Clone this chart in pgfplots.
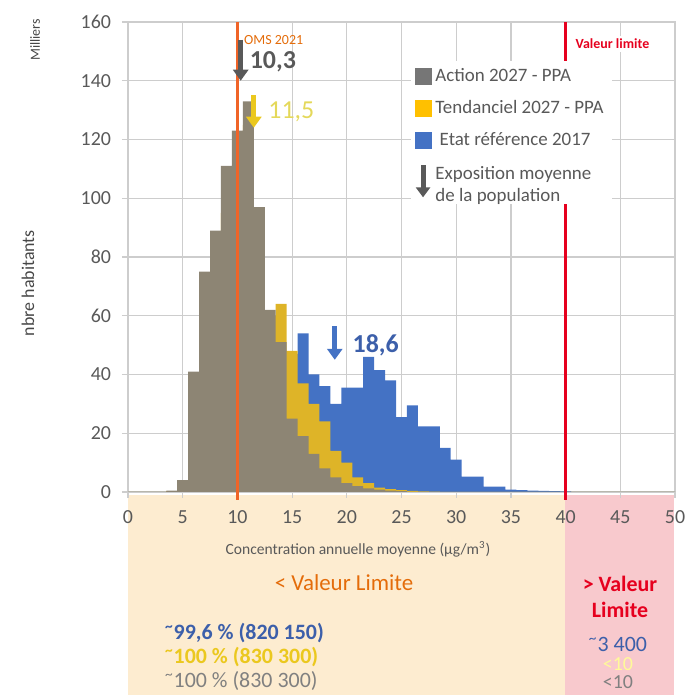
\documentclass[border=0pt]{standalone}
\usepackage{fontspec}
\setmainfont{Carlito}
\usepackage{pgfplots}
\pgfplotsset{compat=1.18}
\usetikzlibrary{arrows.meta}
\definecolor{cblue}{RGB}{68,114,196}
\definecolor{cyellow}{RGB}{222,180,40}
\definecolor{cgray}{RGB}{128,128,128}
\definecolor{cbrown}{RGB}{141,133,116}
\definecolor{lgray}{RGB}{118,118,118}
\definecolor{lyellow}{RGB}{255,192,0}
\definecolor{tgray}{RGB}{89,89,89}
\definecolor{corange}{RGB}{240,100,40}
\definecolor{torange}{RGB}{228,108,10}
\definecolor{cred}{RGB}{230,0,30}
\definecolor{beige}{RGB}{253,236,208}
\definecolor{pinkc}{RGB}{248,201,205}
\definecolor{gridc}{RGB}{205,205,205}
\definecolor{tblue}{RGB}{60,95,170}
\definecolor{tyellow}{RGB}{235,200,30}
\definecolor{tyell2}{RGB}{228,216,90}
\begin{document}
\begin{tikzpicture}
\def\pxu{0.5bp}
\path[use as bounding box] ({-128*\pxu},{-203*\pxu}) rectangle ({561*\pxu},{492*\pxu});
\fill[beige] (0,{-3*\pxu}) rectangle ({437*\pxu},{-203*\pxu});
\fill[pinkc] ({437*\pxu},{-3*\pxu}) rectangle ({546*\pxu},{-203*\pxu});
\begin{axis}[
  at={(0,0)}, anchor=south west, scale only axis,
  width=273.5bp, height=235bp,
  xmin=0, xmax=50, ymin=0, ymax=160,
  xtick={0,5,...,50}, ytick={0,20,...,160},
  grid=major, major grid style={gridc, line width=0.6bp},
  axis line style={gridc, line width=0.7bp},
  tick style={gridc, line width=0.6bp},
  tick align=outside, major tick length=3bp, tick pos=left,
  ticklabel style={font=\fontsize{10}{12}\selectfont, text=tgray},
  xticklabel style={yshift=-3bp},
  yticklabel style={xshift=-2bp},
  /pgf/number format/assume math mode=true,
  clip=false,
  legend style={at={(axis cs:25.8,147)}, anchor=north west, draw=none, fill=white,
    font=\fontsize{9.5}{11}\selectfont, text=tgray, row sep=4bp, inner sep=2bp,
    cells={anchor=west}},
]
\addlegendimage{legend image code/.code={\fill[lgray] (0,-4bp) rectangle (8bp,4bp);}}
\addlegendentry{Action 2027 - PPA}
\addlegendimage{legend image code/.code={\fill[lyellow] (0,-4bp) rectangle (8bp,4bp);}}
\addlegendentry{Tendanciel 2027 - PPA}
\addlegendimage{legend image code/.code={\fill[cblue] (0,-4bp) rectangle (8bp,4bp);}}
\addlegendentry{\ Etat référence 2017}
\addlegendimage{legend image code/.code={\draw[tgray, line width=2.5bp, -{Triangle[width=7bp,length=5bp]}] (4bp,7bp) -- (4bp,-9bp);}}
\addlegendentry{\begin{tabular}{@{}l@{}}Exposition moyenne\\de la population\end{tabular}}

% Etat reference 2017
\addplot[const plot mark mid, fill=cblue, draw=none, forget plot] coordinates {
(0,0)(3,0)(4,0.2)(5,1)(6,5)(7,10)(8,15)(9,20)(10,25)(11,30)(12,35)(13,40)(14,45)(15,47)
(16,54)(17,40)(18,36)(19,30)(20,35.5)(21,35.5)(22,46)(23,41.5)(24,38)(25,25.5)(26,29.5)
(27,22.3)(28,22.3)(29,15)(30,11)(31,5.2)(32,5.2)(33,1.8)(34,1.8)(35,0.8)(36,0.6)(37,0.5)
(38,0.4)(39,0.3)(40,0.2)(41,0)(50,0)} \closedcycle;
% Tendanciel 2027
\addplot[const plot mark mid, fill=cyellow, draw=none, forget plot] coordinates {
(0,0)(3,0)(4,0.3)(5,2)(6,25)(7,55)(8,75)(9,95)(10,110)(11,125)(12,95)(13,60)(14,64)(15,48)
(16,37)(17,30)(18,24)(19,14)(20,10)(21,5)(22,3)(23,1.5)(24,1)(25,0.6)(26,0.4)(27,0.2)(28,0.1)
(29,0)(50,0)} \closedcycle;
% Action 2027
\addplot[const plot mark mid, fill=cbrown, draw=none, forget plot] coordinates {
(0,0)(3,0)(4,0.5)(5,4)(6,41)(7,75)(8,89)(9,111)(10,123)(11,133)(12,97)(13,62)(14,51)(15,25)
(16,19)(17,13)(18,8)(19,5)(20,3)(21,2)(22,1.2)(23,0.8)(24,0.5)(25,0.3)(26,0)(50,0)} \closedcycle;

\draw[corange, line width=1.6bp] (axis cs:10,-2.7) -- (axis cs:10,160);
\draw[cred, line width=1.6bp] (axis cs:40,-2.7) -- (axis cs:40,160);
\node[anchor=west, text=torange, font=\fontsize{7}{8}\selectfont, inner sep=1bp] at (axis cs:10.4,154) {OMS 2021};
\node[anchor=west, text=cred, font=\bfseries\fontsize{7}{8}\selectfont, fill=white, inner sep=1.5bp] at (axis cs:40.6,152.5) {Valeur limite};
% mean exposure arrows
\draw[tgray, line width=2.5bp, -{Triangle[width=7.5bp,length=5.5bp]}] (axis cs:10.3,154) -- (axis cs:10.3,140);
\node[anchor=west, text=tgray, font=\bfseries\fontsize{13}{15}\selectfont, inner sep=0pt] at (axis cs:11.1,146.5) {10,3};
\draw[tyellow, line width=2.5bp, -{Triangle[width=7.5bp,length=5.5bp]}] (axis cs:11.5,135) -- (axis cs:11.5,124);
\node[anchor=west, text=tyell2, font=\fontsize{13}{15}\selectfont, inner sep=0pt] at (axis cs:12.8,129.5) {11,5};
\draw[cblue, line width=2.5bp, -{Triangle[width=7.5bp,length=5.5bp]}] (axis cs:18.9,56.5) -- (axis cs:18.9,45);
\node[anchor=west, text=tblue, font=\bfseries\fontsize{13}{15}\selectfont, inner sep=0pt] at (axis cs:20.5,50) {18,6};
\end{axis}
% outer texts
\node[rotate=90, text=tgray!80!black, font=\fontsize{7}{8}\selectfont] at ({-93*\pxu},{452*\pxu}) {Milliers};
\node[rotate=90, text=tgray!80!black, font=\fontsize{9}{10}\selectfont] at ({-100*\pxu},{209*\pxu}) {nbre habitants};
\node[text=tgray, font=\fontsize{7.8}{9}\selectfont] at ({230*\pxu},{-57*\pxu}) {Concentration annuelle moyenne (µg/m\textsuperscript{3})};
\node[text=torange, font=\fontsize{11.5}{13}\selectfont] at ({216*\pxu},{-91*\pxu}) {< Valeur Limite};
\node[text=cred, font=\bfseries\fontsize{11}{13}\selectfont] at ({492*\pxu},{-92*\pxu}) {> Valeur};
\node[text=cred, font=\bfseries\fontsize{11}{13}\selectfont] at ({492*\pxu},{-118*\pxu}) {Limite};
\node[anchor=west, text=tblue, font=\bfseries\fontsize{11}{13}\selectfont] at ({30*\pxu},{-141*\pxu}) {\textsuperscript{\textasciitilde}99,6 \% (820 150)};
\node[anchor=west, text=tyellow, font=\bfseries\fontsize{11}{13}\selectfont] at ({30*\pxu},{-165*\pxu}) {\textsuperscript{\textasciitilde}100 \% (830 300)};
\node[anchor=west, text=cgray, font=\fontsize{11}{13}\selectfont] at ({30*\pxu},{-189*\pxu}) {\textsuperscript{\textasciitilde}100 \% (830 300)};
\node[text=tblue, font=\fontsize{11}{13}\selectfont] at ({490*\pxu},{-152*\pxu}) {\textsuperscript{\textasciitilde}3 400};
\node[text=white!60!yellow, font=\fontsize{10}{12}\selectfont] at ({490*\pxu},{-172*\pxu}) {<10};
\node[text=cgray, font=\fontsize{10}{12}\selectfont] at ({490*\pxu},{-190*\pxu}) {<10};
\end{tikzpicture}
\end{document}
